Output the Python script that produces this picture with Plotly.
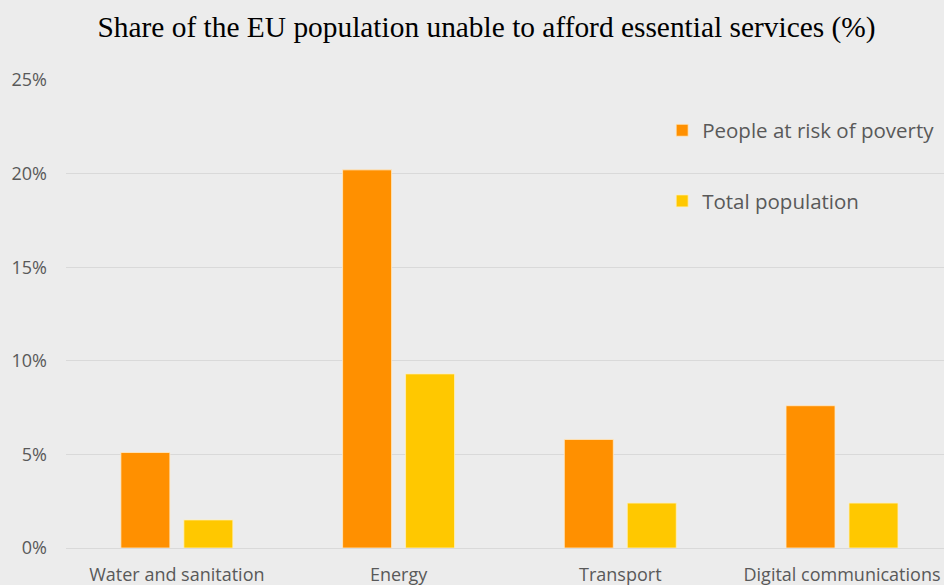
import plotly.graph_objects as go

categories = ["Water and sanitation", "Energy", "Transport", "Digital communications"]
at_risk = [5.1, 20.2, 5.8, 7.6]
total_pop = [1.5, 9.3, 2.4, 2.4]
series_names = ["People at risk of poverty", "Total population"]
y_ticks = [0, 5, 10, 15, 20, 25]
y_tick_labels = ["0%", "5%", "10%", "15%", "20%", "25%"]

bg = "#ECECEC"
grid = "#D9D9D9"
txt = "#595959"

fig = go.Figure()
fig.add_trace(go.Bar(x=categories, y=at_risk, name=series_names[0],
                     marker=dict(color="#FF9000", line=dict(color="rgba(255,235,200,0.8)", width=1)),
                     legendgroup="a"))
fig.add_trace(go.Bar(x=categories, y=total_pop, name=series_names[1],
                     marker=dict(color="#FFC800", line=dict(color="rgba(255,240,190,0.8)", width=1)),
                     legendgroup="b"))

fig.update_layout(
    width=944, height=585,
    paper_bgcolor=bg, plot_bgcolor=bg,
    margin=dict(l=66, r=0, t=80, b=37, autoexpand=False),
    barmode="group", bargap=0.432, bargroupgap=0.222,
    title=dict(text="Share of the EU population unable to afford essential services (%)",
               font=dict(family="Liberation Serif", size=29.4, color="#000000"),
               x=0.5154, xref="container", xanchor="center", y=0.955, yanchor="middle"),
    font=dict(family="Open Sans", color=txt, size=18),
    showlegend=True,
    legend=dict(x=0.679, xanchor="left", y=0.935, yanchor="top",
                bgcolor="rgba(0,0,0,0)", font=dict(size=20.5, color=txt),
                traceorder="grouped", tracegroupgap=41, itemwidth=30),
    xaxis=dict(range=[-0.5, 3.46], showgrid=False, showline=False, ticks="",
               ticklabelstandoff=14,
               tickfont=dict(size=18, color=txt), fixedrange=True),
    yaxis=dict(range=[0, 25], tickvals=y_ticks, ticktext=y_tick_labels,
               showgrid=True, gridcolor=grid, gridwidth=1,
               zeroline=True, zerolinecolor=grid, zerolinewidth=1,
               showline=False, ticks="", ticklabelstandoff=18,
               tickfont=dict(size=18, color=txt), fixedrange=True),
)

fig.write_html("out.html", config={"displayModeBar": False},
               post_script="document.body.style.margin='0';document.body.style.background='#ECECEC';")
